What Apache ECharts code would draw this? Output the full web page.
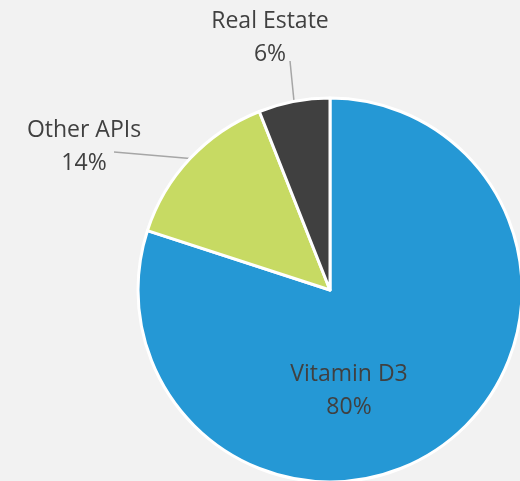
<!DOCTYPE html>
<html>
<head>
<meta charset="utf-8">
<script src="https://cdn.jsdelivr.net/npm/echarts@6/dist/echarts.min.js"></script>
<style>
  html, body { margin: 0; padding: 0; background: #f2f2f2; }
  #chart { width: 520px; height: 481px; }
</style>
</head>
<body>
<div id="chart"></div>
<script>
const categories = ['Vitamin D3', 'Other APIs', 'Real Estate'];
const shares = [80, 14, 6];
const sliceColors = ['#2598d5', '#c7da63', '#404040'];

// label centres, and where the leader line meets the label (offset from centre)
const labelSpots = [[349, 391], [84, 147], [270, 38]];
const lineEnds = [null, [30, 5], [20, 23]];

const chart = echarts.init(document.getElementById('chart'));

chart.setOption({
  backgroundColor: '#f2f2f2',
  animation: false,
  series: [{
    type: 'pie',
    center: [330, 290],
    radius: 192,
    startAngle: 90,
    clockwise: true,
    avoidLabelOverlap: false,
    itemStyle: { borderColor: '#ffffff', borderWidth: 3 },
    label: {
      show: true,
      formatter: '{b}\n{d}%',
      fontFamily: 'Open Sans',
      fontSize: 23,
      lineHeight: 33,
      color: '#404040',
      align: 'center'
    },
    labelLine: {
      show: true,
      length: 12,
      length2: 10,
      lineStyle: { color: '#a6a6a6', width: 1.5 }
    },
    labelLayout: function (params) {
      const i = params.dataIndex;
      const p = labelSpots[i];
      const out = { x: p[0], y: p[1], align: 'center', verticalAlign: 'middle' };
      if (lineEnds[i] && params.labelLinePoints) {
        out.labelLinePoints = [
          params.labelLinePoints[0],
          [p[0] + lineEnds[i][0], p[1] + lineEnds[i][1]]
        ];
      }
      return out;
    },
    data: categories.map((name, i) => ({
      name: name,
      value: shares[i],
      itemStyle: { color: sliceColors[i] },
      label: { position: i === 0 ? 'inside' : 'outside' },
      labelLine: { show: i !== 0 }
    }))
  }]
});
</script>
</body>
</html>
